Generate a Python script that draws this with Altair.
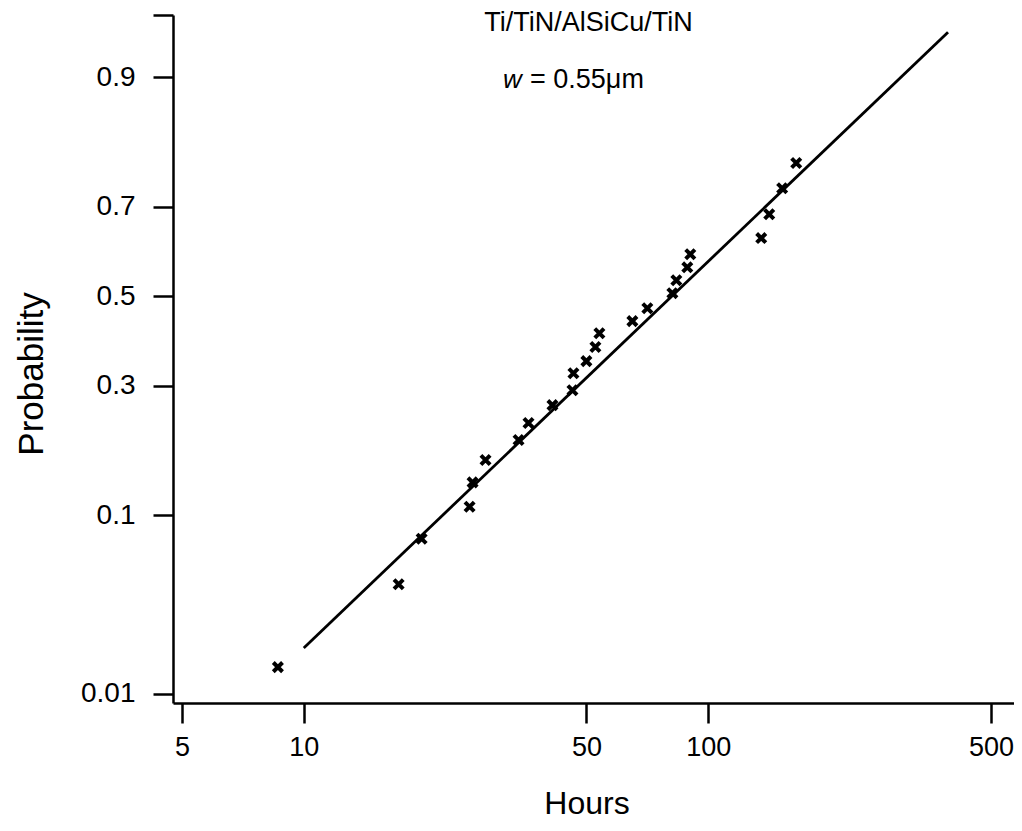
import altair as alt
import pandas as pd
from statistics import NormalDist

# ---- data ----
hours = [8.63, 17.16, 19.56, 25.70, 26.14, 28.14, 33.96, 35.94, 41.19, 46.16,
         46.42, 49.97, 52.60, 53.81, 64.92, 70.70, 81.52, 83.39, 88.75, 90.28,
         135.2, 141.5, 152.3, 165.0]
probability = [0.015, 0.046, 0.078, 0.109, 0.138, 0.169, 0.200, 0.229, 0.262, 0.291,
               0.326, 0.352, 0.383, 0.414, 0.442, 0.472, 0.507, 0.537, 0.567, 0.597,
               0.633, 0.684, 0.736, 0.782]
fit_hours = [10.0, 391.5]
fit_probability = [0.0198, 0.9387]

x_ticks = [5, 10, 50, 100, 500]
y_ticks = [0.01, 0.1, 0.3, 0.5, 0.7, 0.9, 0.95]
x_domain = [4.75, 570]
y_domain_prob = [0.00866, 0.95]

title_line1 = "Ti/TiN/AlSiCu/TiN"
title_w = "w"
title_rest = "= 0.55\u03bcm"

FONT = "Liberation Sans"
nd = NormalDist()
y_tick_z = [nd.inv_cdf(p) for p in y_ticks]
y_domain = [nd.inv_cdf(p) for p in y_domain_prob]

pts = pd.DataFrame({"hours": hours, "prob": probability})
fit = pd.DataFrame({"hours": fit_hours, "prob": fit_probability})

xscale = alt.Scale(type="log", domain=x_domain, nice=False, zero=False)
yscale = alt.Scale(type="linear", domain=y_domain, nice=False, zero=False)

xaxis = alt.Axis(values=x_ticks, format="d", grid=False, tickSize=20, tickWidth=2.5,
                 tickColor="black", domainColor="black", domainWidth=2.5,
                 labelFont=FONT, labelFontSize=27, labelColor="black", labelPadding=11,
                 labelFlush=False, labelOverlap=False,
                 title="Hours", titleFont=FONT, titleFontSize=32, titleFontWeight="normal",
                 titleColor="black", titleX=413.5, titleY=85, titleBaseline="top",
                 titleAlign="center", titleAngle=0)
yaxis = alt.Axis(values=y_tick_z,
                 labelExpr="datum.value > 1.6 ? '' : format(cumulativeNormal(datum.value), '.2~f')",
                 grid=False, tickSize=20, tickWidth=2.5, tickColor="black",
                 domainColor="black", domainWidth=2.5,
                 labelFont=FONT, labelFontSize=28, labelColor="black", labelPadding=18,
                 labelFlush=False, labelOverlap=False,
                 title="Probability", titleFont=FONT, titleFontSize=35, titleFontWeight="normal",
                 titleColor="black", titleAngle=270, titleX=-124, titleY=358.5,
                 titleBaseline="bottom", titleAlign="center")

points = alt.Chart(pts).transform_calculate(
    z="quantileNormal(datum.prob)"
).mark_point(
    shape="M-1,-1L1,1M-1,1L1,-1", filled=False, stroke="black", strokeWidth=4,
    size=85, opacity=1
).encode(
    x=alt.X("hours:Q", scale=xscale, axis=xaxis),
    y=alt.Y("z:Q", scale=yscale, axis=yaxis),
)

line = alt.Chart(fit).transform_calculate(
    z="quantileNormal(datum.prob)"
).mark_line(color="black", strokeWidth=2.8).encode(
    x=alt.X("hours:Q", scale=xscale),
    y=alt.Y("z:Q", scale=yscale),
)

t1 = alt.Chart(pd.DataFrame({"t": [title_line1]})).mark_text(
    font=FONT, fontSize=27, color="black", align="center", baseline="alphabetic"
).encode(text="t:N", x=alt.value(415.5), y=alt.value(16))

t2 = alt.Chart(pd.DataFrame({"t": [title_w]})).mark_text(
    font=FONT, fontSize=26, fontStyle="italic", color="black", align="left", baseline="alphabetic"
).encode(text="t:N", x=alt.value(330), y=alt.value(73))

t3 = alt.Chart(pd.DataFrame({"t": [title_rest]})).mark_text(
    font=FONT, fontSize=27, color="black", align="left", baseline="alphabetic"
).encode(text="t:N", x=alt.value(357), y=alt.value(73))

chart = alt.layer(line, points, t1, t2, t3).properties(
    width=841, height=688,
    padding={"left": 165, "top": 7, "right": 0, "bottom": 120},
    autosize=alt.AutoSizeParams(type="none"),
    background="white",
).configure_view(stroke=None)

chart.save("out.html", embed_options={"renderer": "svg", "actions": False})
